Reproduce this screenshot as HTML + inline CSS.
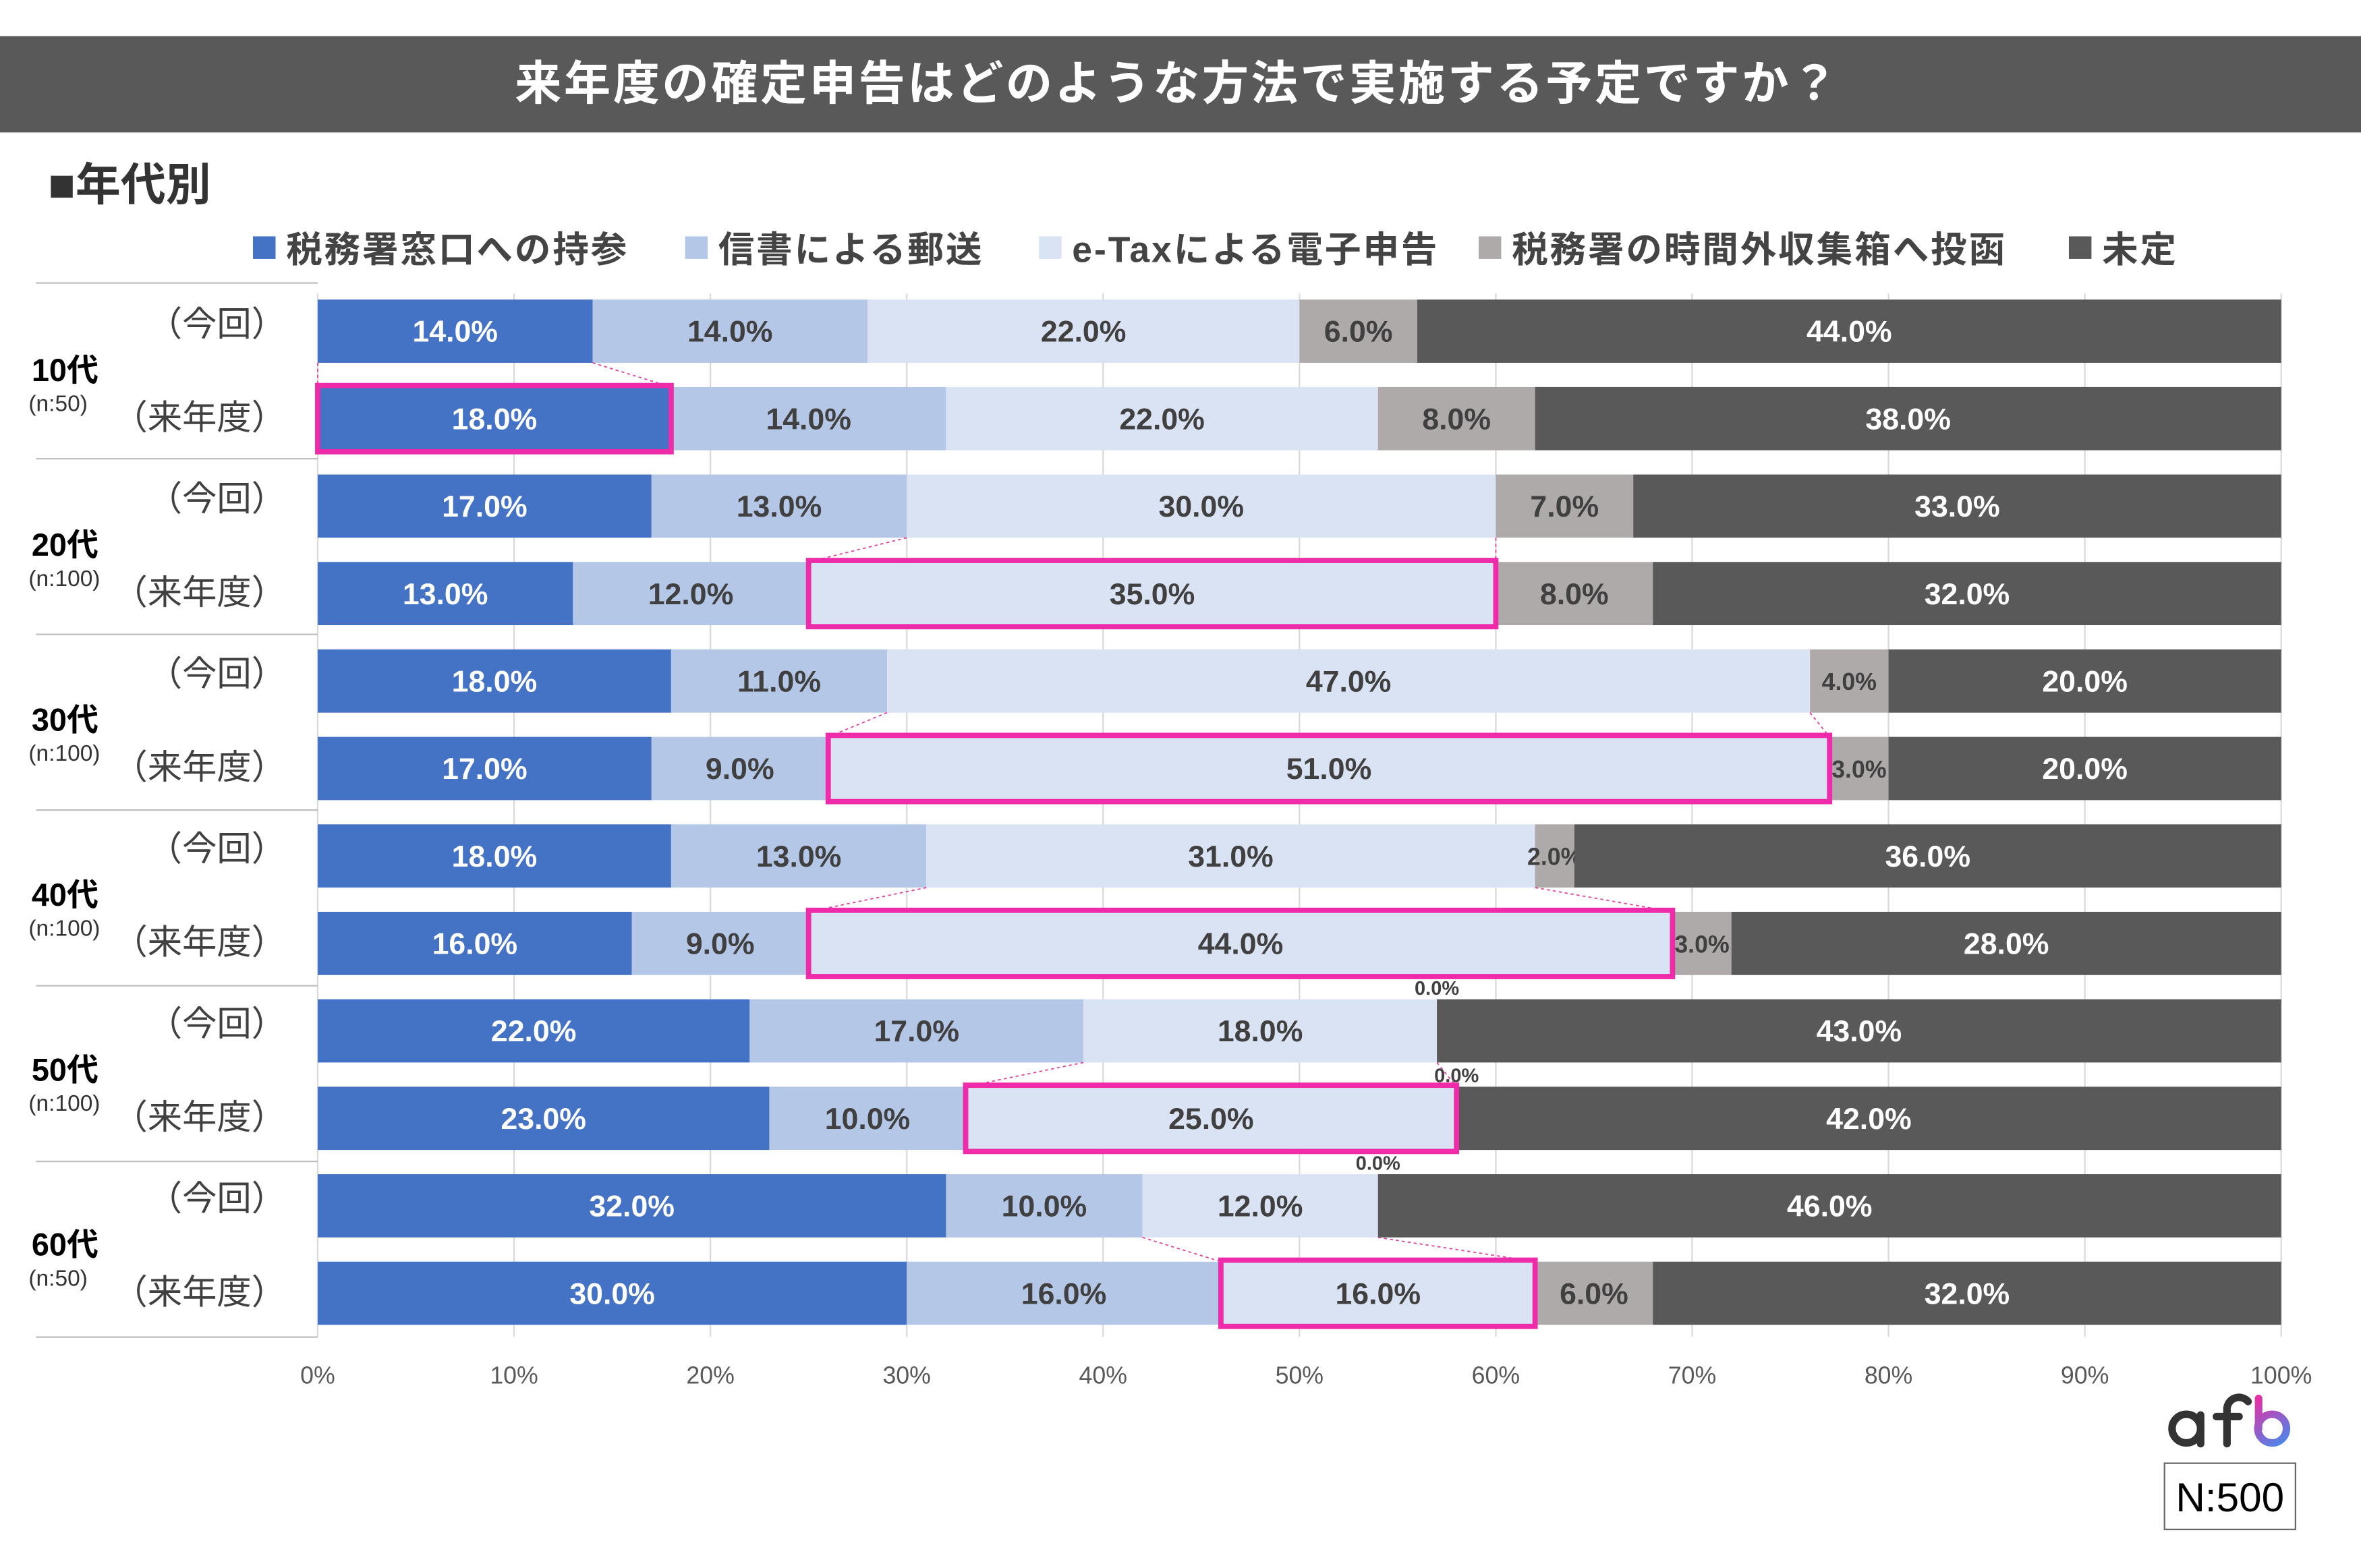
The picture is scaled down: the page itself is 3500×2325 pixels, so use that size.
<!DOCTYPE html>
<html><head><meta charset="utf-8">
<style>
html,body{margin:0;padding:0;background:#fff;}
svg{display:block;}
text{font-family:"Liberation Sans","Noto Sans CJK JP",sans-serif;}
</style></head>
<body>
<svg id="chart" width="3500" height="2325" viewBox="0 0 1568 1041.6" xmlns="http://www.w3.org/2000/svg">
<rect x="0" y="0" width="1568" height="1041.6" fill="#fff"/>
<rect x="0" y="24" width="1568" height="64" fill="#595959"/>
<text x="782" y="66" fill="#fff" font-size="31" font-weight="bold" text-anchor="middle" letter-spacing="1.6">来年度の確定申告はどのような方法で実施する予定ですか？</text>
<text x="32" y="133" fill="#333" font-size="30" font-weight="bold">■年代別</text>
<g id="legend"></g>
<g id="grid"></g>
<g id="bars"></g>
<g id="labels"></g>
<g id="xaxis"></g>
<g>
<defs><linearGradient id="bg" gradientUnits="userSpaceOnUse" x1="1497" y1="928" x2="1520" y2="960"><stop offset="0" stop-color="#ee2aa0"/><stop offset="1" stop-color="#3f8ef0"/></linearGradient></defs>
<circle cx="1452" cy="949" r="9.5" fill="none" stroke="#333" stroke-width="5"/>
<line x1="1461.5" y1="940" x2="1461.5" y2="959" stroke="#333" stroke-width="5" stroke-linecap="round"/>
<path d="M1479 959 V937 a8 8 0 0 1 14 -6" fill="none" stroke="#333" stroke-width="5" stroke-linecap="round"/>
<line x1="1472" y1="941" x2="1487" y2="941" stroke="#333" stroke-width="5" stroke-linecap="round"/>
<line x1="1500" y1="929" x2="1500" y2="949" stroke="url(#bg)" stroke-width="5" stroke-linecap="round"/>
<circle cx="1509" cy="949" r="9.5" fill="none" stroke="url(#bg)" stroke-width="5"/>
</g>
<rect x="1437.5" y="972" width="87" height="44" fill="#fff" stroke="#666" stroke-width="1"/>
<text x="1481" y="1004" font-size="27" fill="#000" text-anchor="middle">N:500</text>
</svg>
<script>
const series = ["税務署窓口への持参","信書による郵送","e-Taxによる電子申告","税務署の時間外収集箱へ投函","未定"];
const groups = ["10代","20代","30代","40代","50代","60代"];
const groupN = ["(n:50)","(n:100)","(n:100)","(n:100)","(n:100)","(n:50)"];
const rowKinds = ["（今回）","（来年度）"];
const valsMadoguchi = [14,18,17,13,18,17,18,16,22,23,32,30];
const valsYuso =      [14,14,13,12,11,9,13,9,17,10,10,16];
const valsEtax =      [22,22,30,35,47,51,31,44,18,25,12,16];
const valsShushu =    [6,8,7,8,4,3,2,3,0,0,0,6];
const valsMitei =     [44,38,33,32,20,20,36,28,43,42,46,32];
const highlightSeries = [0,2,2,2,2,2];
const ticks = [0,10,20,30,40,50,60,70,80,90,100];

const colors = ["#4472C4","#B4C7E7","#DAE3F3","#AEAAAA","#595959"];
const labelColors = ["#fff","#404040","#404040","#404040","#fff"];
const NS="http://www.w3.org/2000/svg";
const X0=211, X1=1515, Y0=220, ROW=58.1, BH=42;
const xs = v => X0 + (X1-X0)*v/100;
const yc = i => Y0 + i*ROW;
function mk(tag, attrs, parent, txt){
  const e=document.createElementNS(NS,tag);
  for(const k in attrs) e.setAttribute(k,attrs[k]);
  if(txt!==undefined) e.textContent=txt;
  parent.appendChild(e); return e;
}
const all=[valsMadoguchi,valsYuso,valsEtax,valsShushu,valsMitei];

// legend
const lg=document.getElementById('legend');
const lx=[168,455,690,982,1374];
series.forEach((s,i)=>{
  const r=mk('rect',{x:lx[i],y:157,width:15,height:15,fill:colors[i]},lg);
  
  
  const t=mk('text',{x:lx[i]+22,y:174,'font-size':24,'font-weight':'bold',fill:'#444','letter-spacing':1.3},lg,s);
  
  
});

// grid
const gd=document.getElementById('grid');
ticks.forEach(t=>{
  const l=mk('line',{x1:xs(t),x2:xs(t),y1:195,y2:888,stroke:'#d9d9d9','stroke-width':1},gd);
  
  
});

// axis labels
const xa=document.getElementById('xaxis');
ticks.forEach(t=>{
  const tx=mk('text',{x:xs(t),y:919,'font-size':16,fill:'#595959','text-anchor':'middle'},xa,t+'%');
  
  
});

// bars
const bg=document.getElementById('bars');
const boxes=[];
for(let r=0;r<12;r++){
  let acc=0;
  const y=yc(r);
  for(let s=0;s<5;s++){
    const v=all[s][r];
    const x=xs(acc), w=xs(acc+v)-xs(acc);
    const rc=mk('rect',{x:x,y:y-BH/2,width:w,height:BH,fill:colors[s]},bg);
    
    
    const lab=v.toFixed(1)+'%';
    let t;
    if(v===0){
      t=mk('text',{x:x,y:y-BH/2-3,'font-size':13,'font-weight':'bold',fill:'#404040','text-anchor':'middle'},bg,lab);
    } else if(v<5){
      t=mk('text',{x:x+w/2,y:y+6,'font-size':16,'font-weight':'bold',fill:'#404040','text-anchor':'middle'},bg,lab);
    } else {
      t=mk('text',{x:x+w/2,y:y+7,'font-size':20,'font-weight':'bold',fill:labelColors[s],'text-anchor':'middle'},bg,lab);
    }
    
    
    if(r%2===1 && s===highlightSeries[(r-1)/2]) boxes.push([x,y,w,r,acc,v]);
    acc+=v;
  }
}
boxes.forEach(([x,y,w,r,acc,v])=>{
  const g=Math.floor(r/2), s=highlightSeries[g];
  let pa=0; for(let k=0;k<s;k++) pa+=all[k][r-1];
  const pv=all[s][r-1];
  [[pa,acc],[pa+pv,acc+v]].forEach(([a,b])=>{
    const l=mk('line',{x1:xs(a),y1:yc(r-1)+BH/2,x2:xs(b),y2:y-BH/2,stroke:'#e040a0','stroke-width':0.8,'stroke-dasharray':'2,2'},bg);
    
    
  });
  const hb=mk('rect',{x:x,y:y-BH/2-1,width:w,height:BH+2,fill:'none',stroke:'#EE2BA8','stroke-width':3.5},bg);
  
  
});

// category labels
const cl=document.getElementById('labels');
for(let g=0;g<=6;g++){
  const yy=188+g*116.7;
  const l=mk('line',{x1:24,x2:211,y1:yy,y2:yy,stroke:'#bfbfbf','stroke-width':1},cl);
  
  
}
groups.forEach((gname,g)=>{
  const ym=(yc(2*g)+yc(2*g+1))/2;
  const t=mk('text',{x:21,y:ym+4,'font-size':21,'font-weight':'bold',fill:'#000'},cl,gname);
  
  
  const n=mk('text',{x:19,y:ym+24,'font-size':15,fill:'#333'},cl,groupN[g]);
  
  
  rowKinds.forEach((rk,k)=>{
    const rt=mk('text',{x:190,y:yc(2*g+k)+7+(k?0:-4),'font-size':23,fill:'#404040','text-anchor':'end'},cl,rk);
    
    
  });
});
</script>
</body></html>
